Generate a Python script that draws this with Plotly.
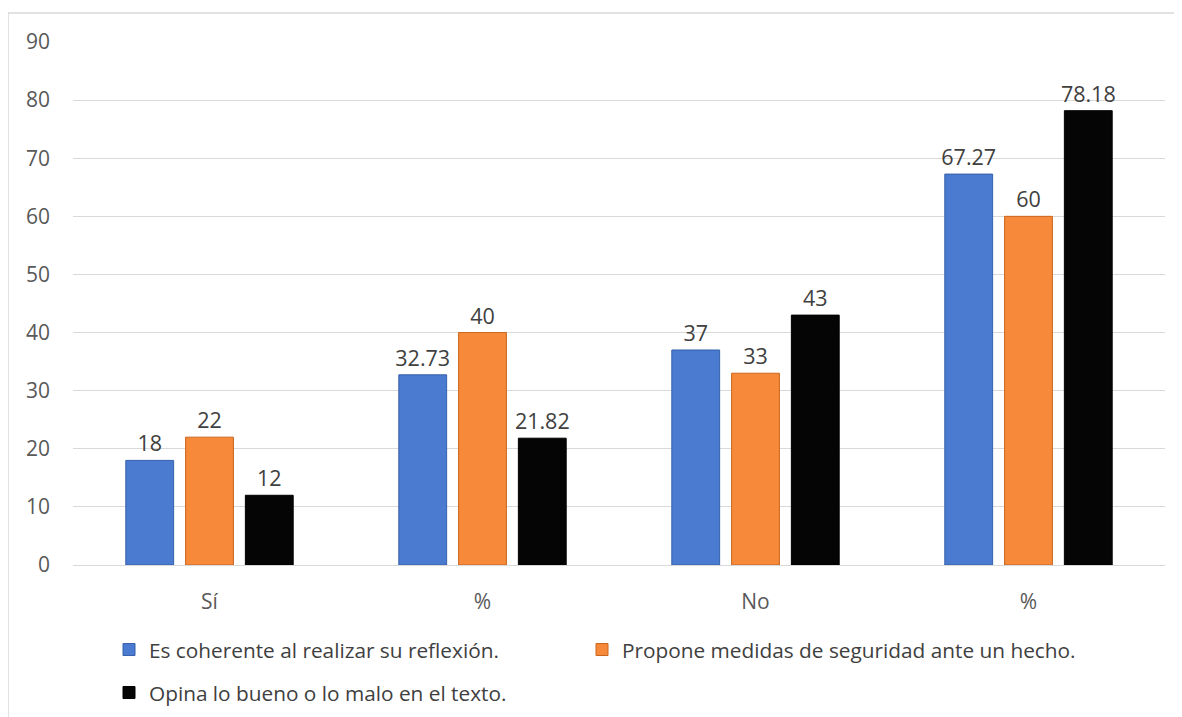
import plotly.graph_objects as go

categories = ["Sí", "%", "No", "%"]
series_names = [
    "Es coherente al realizar su reflexión.",
    "Propone medidas de seguridad ante un hecho.",
    "Opina lo bueno o lo malo en el texto.",
]
coherente = [18, 32.73, 37, 67.27]
propone = [22, 40, 33, 60]
opina = [12, 21.82, 43, 78.18]
y_ticks = [0, 10, 20, 30, 40, 50, 60, 70, 80, 90]

colors = ["#4a7bd0", "#f6893a", "#050505"]
edges = ["#3560aa", "#c9661e", "#000000"]
values = [coherente, propone, opina]
legends = ["legend", "legend2", "legend3"]

OFF = 8  # page body margin
W, H = 1182 - OFF, 717 - OFF
L, R, T, B = 73 - OFF, 17, 42 - OFF, 152
pw, ph = W - L - R, H - T - B

def px_x(px):  # reference screenshot px -> paper
    return (px - OFF - L) / pw

def px_y(py):
    return (H - B - (py - OFF)) / ph

def cx(px):  # reference px -> container
    return (px - OFF) / W

def cy(py):
    return 1 - (py - OFF) / H

x_pos = list(range(len(categories)))
FONT = "Open Sans"

fig = go.Figure()
for name, vals, c, e, lg in zip(series_names, values, colors, edges, legends):
    fig.add_trace(go.Bar(
        x=x_pos, y=vals, name=name,
        marker=dict(color=c, line=dict(color=e, width=1)),
        text=[f"{v:g}" for v in vals],
        textposition="outside",
        constraintext="none",
        textfont=dict(size=21.5, color="#404040", family=FONT),
        cliponaxis=False,
        legend=lg,
    ))

leg_common = dict(orientation="h", xref="container", yref="container",
                  xanchor="left", yanchor="middle", itemwidth=30,
                  bgcolor="rgba(0,0,0,0)",
                  font=dict(size=20.8, color="#404040", family=FONT))

fig.update_layout(
    width=W, height=H,
    margin=dict(l=L, r=R, t=T, b=B, autoexpand=False),
    paper_bgcolor="white", plot_bgcolor="white",
    barmode="group", bargap=0.343, bargroupgap=0.2,
    font=dict(family=FONT, size=21, color="#595959"),
    showlegend=True,
    legend=dict(x=cx(109), y=cy(650), **leg_common),
    legend2=dict(x=cx(582), y=cy(650), **leg_common),
    legend3=dict(x=cx(109), y=cy(693), **leg_common),
    xaxis=dict(tickmode="array", tickvals=x_pos, ticktext=categories,
               range=[-0.5, len(categories) - 0.5], automargin=False,
               showgrid=False, showline=True, linecolor="#d9d9d9", linewidth=1,
               ticks="", ticklabelstandoff=18,
               tickfont=dict(size=21, color="#595959")),
    yaxis=dict(range=[0, 90], tickmode="array", tickvals=y_ticks, automargin=False,
               showgrid=True, gridcolor="#d9d9d9", gridwidth=1,
               zeroline=False, showline=False, ticks="",
               ticklabelstandoff=22,
               tickfont=dict(size=21, color="#595959")),
    shapes=[dict(type="rect", xref="paper", yref="paper",
                 x0=px_x(8), x1=px_x(1200), y0=px_y(740), y1=px_y(13),
                 line=dict(color="#d9d9d9", width=1.5), layer="below")],
)

fig.write_html("out.html")
